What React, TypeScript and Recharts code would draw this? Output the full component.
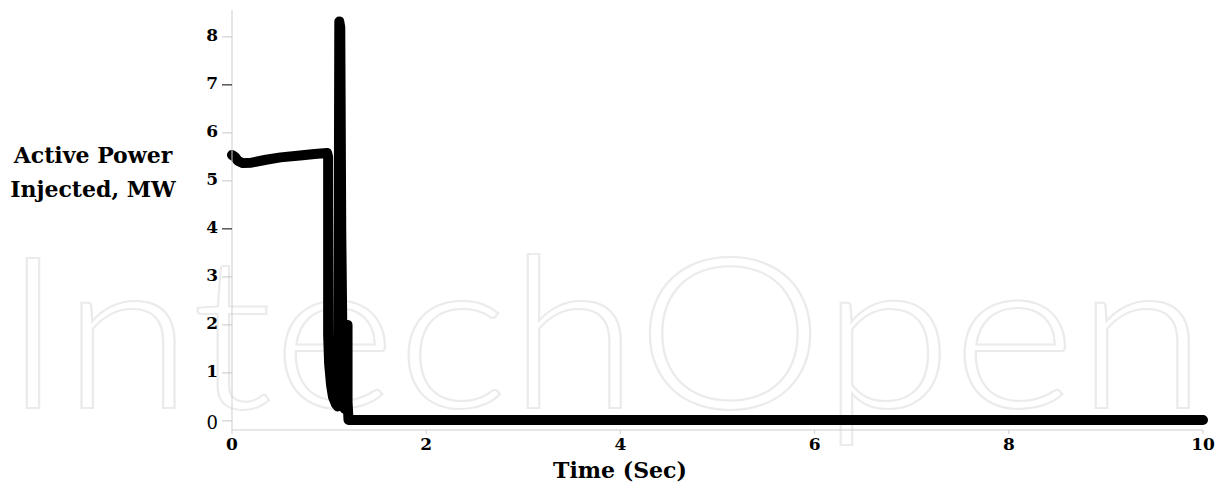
import { LineChart, Line, XAxis, YAxis } from 'recharts';

// time (s) and injected active power (MW)
const times = [
  0, 0.03, 0.06, 0.11, 0.2, 0.35, 0.5, 0.7, 0.85, 0.98, 0.99, 0.99, 1.0, 1.02, 1.04, 1.07,
  1.09, 1.1, 1.105, 1.115, 1.125, 1.14, 1.16, 1.175, 1.18, 1.19, 1.19, 1.2, 10
];
const power = [
  5.54, 5.5, 5.42, 5.37, 5.38, 5.44, 5.49, 5.53, 5.56, 5.58, 5.5, 1.8, 1.2, 0.75, 0.5, 0.35,
  0.3, 4.5, 8.32, 8.2, 4.0, 1.2, 0.25, 0.28, 2.0, 2.0, 0.4, 0.02, 0.02
];

const xTicks = [0, 2, 4, 6, 8, 10];
const yTicks = [0, 1, 2, 3, 4, 5, 6, 7, 8];
const darkTicks = [4, 7];

const data = times.map((t, i) => ({ t, p: power[i] }));

const serif = '"DejaVu Serif", "Liberation Serif", serif';

function YTick(props: any) {
  const { x, y, payload } = props;
  const v = payload.value;
  return (
    <g>
      <line
        x1={x + 4}
        x2={x + 14}
        y1={y}
        y2={y}
        stroke={darkTicks.includes(v) ? '#000' : '#c8c8c8'}
        strokeWidth={1}
      />
      <text
        x={x}
        y={v === 0 ? y + 3 : y}
        textAnchor="end"
        dominantBaseline="middle"
        fontFamily={serif}
        fontSize={v === 0 ? 18 : 17}
        fontWeight={v === 0 ? 400 : 700}
        fill="#000"
      >
        {v}
      </text>
    </g>
  );
}

export default function App() {
  return (
    <div style={{ position: 'absolute', left: 0, top: 0, width: 1217, height: 489, background: '#fff' }}>
      <svg width={1217} height={489} style={{ position: 'absolute', left: 0, top: 0 }}>
        <text
          x={2}
          y={408}
          textLength={1205}
          lengthAdjust="spacingAndGlyphs"
          fontFamily="Lato, 'Open Sans', sans-serif"
          fontWeight={300}
          fontSize={212}
          fill="none"
          stroke="#ebebeb"
          strokeWidth={2}
        >
          IntechOpen
        </text>
      </svg>
      <div style={{ position: 'absolute', left: 0, top: 0 }}>
        <LineChart width={1217} height={489} data={data} margin={{ top: 10, right: 14, left: 182, bottom: 29 }}>
          <XAxis
            dataKey="t"
            type="number"
            domain={[0, 10]}
            ticks={xTicks}
            height={30}
            axisLine={{ stroke: '#cfcfcf' }}
            tickLine={{ stroke: '#cfcfcf' }}
            tickSize={4}
            tickMargin={4}
            tick={{ fill: '#000', fontSize: 17, fontWeight: 700, fontFamily: serif }}
          />
          <YAxis
            type="number"
            domain={[-0.19, 8.56]}
            ticks={yTicks}
            width={50}
            axisLine={{ stroke: '#cfcfcf' }}
            tickLine={false}
            tickSize={10}
            tickMargin={4}
            tick={<YTick />}
          />
          <Line
            type="linear"
            dataKey="p"
            stroke="#000"
            strokeWidth={10}
            strokeLinejoin="round"
            strokeLinecap="round"
            dot={false}
            isAnimationActive={false}
          />
        </LineChart>
      </div>
      <svg width={1217} height={489} style={{ position: 'absolute', left: 0, top: 0, pointerEvents: 'none' }}>
        <text x={93} y={163} textAnchor="middle" fontFamily={serif} fontWeight={700} fontSize={22}>
          Active Power
        </text>
        <text x={93} y={197} textAnchor="middle" fontFamily={serif} fontWeight={700} fontSize={22}>
          Injected, MW
        </text>
        <text x={620} y={478} textAnchor="middle" fontFamily={serif} fontWeight={700} fontSize={22}>
          Time (Sec)
        </text>
      </svg>
    </div>
  );
}
